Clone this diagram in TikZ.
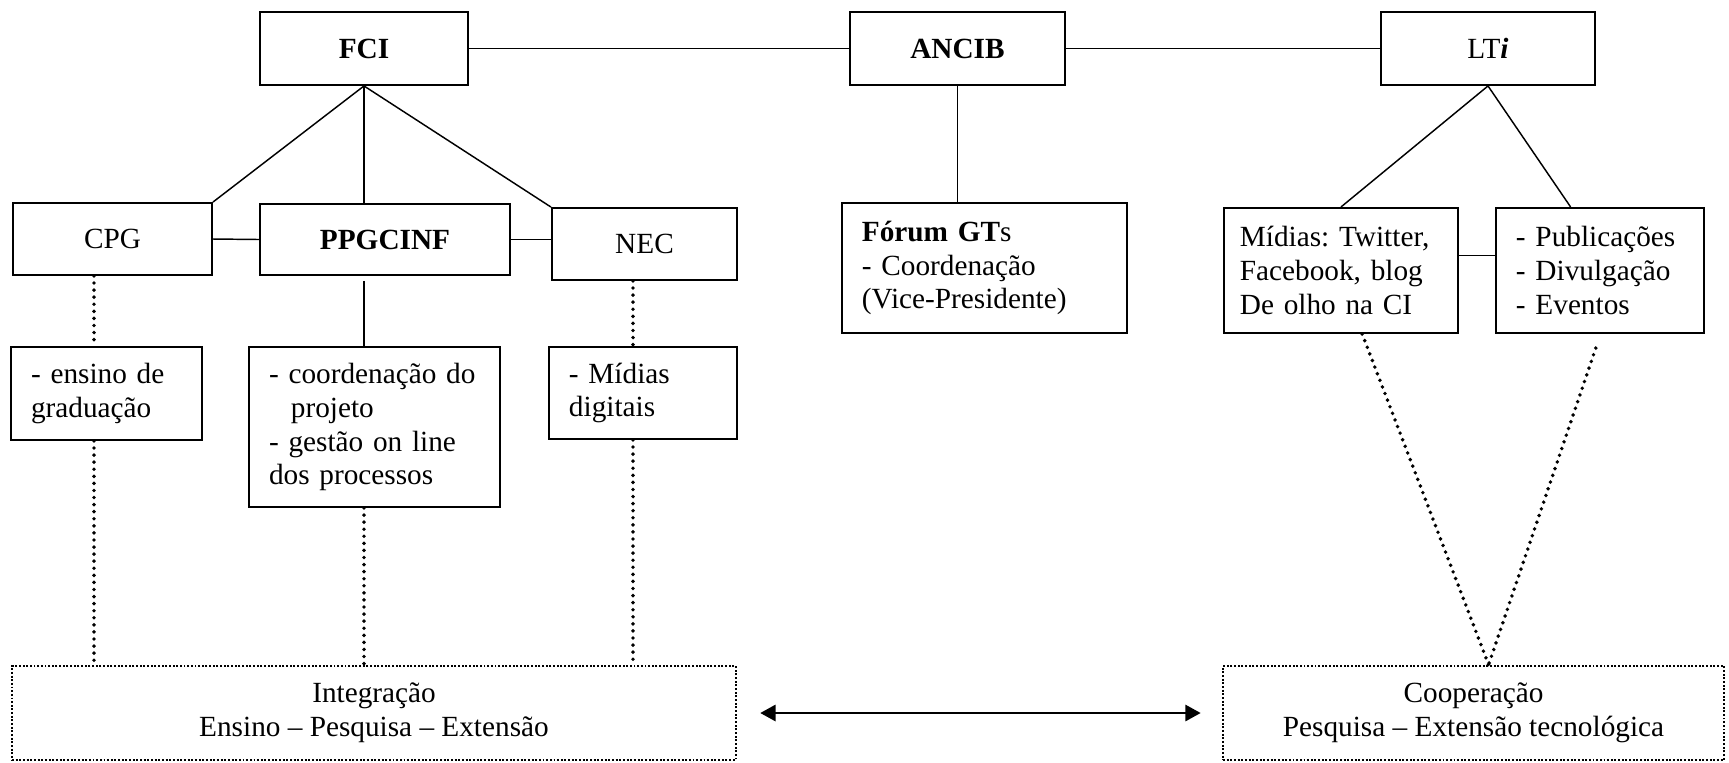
\documentclass[tikz,border=0pt]{standalone}
\usepackage{fontspec}
\setmainfont{Liberation Serif}
\usetikzlibrary{arrows.meta,calc}

\begin{document}
\begin{tikzpicture}[x=0.41pt,y=-0.41pt,
  box/.style={draw,line width=0.8pt,inner sep=0pt,align=center,font=\fontsize{12}{13.9}\selectfont\frenchspacing},
  listbox/.style={box,align=left,inner xsep=8.2pt},
  zone/.style={draw,dash pattern=on 0.8pt off 0.7pt,line width=1.1pt,inner sep=0pt,align=center,font=\fontsize{12}{13.9}\selectfont},
  link/.style={line width=0.6pt},
  dots/.style={line width=1.6pt,dash pattern=on 0pt off 2.9pt,line cap=round}]
\useasboundingbox (0,0) rectangle (1729,762);
\node[box,minimum width=85.3pt,minimum height=29.9pt] (fci) at (364,48.5) {\textbf{FCI}};
\node[box,minimum width=88.2pt,minimum height=29.9pt] (ancib) at (957.5,48.5) {\textbf{ANCIB}};
\node[box,minimum width=87.7pt,minimum height=29.9pt] (lti) at (1488,48.5) {LT\textbf{\textit{i}}};
\node[box,minimum width=81.6pt,minimum height=29.5pt] (cpg) at (112.5,239) {CPG};
\node[box,minimum width=102.5pt,minimum height=29.1pt] (ppg) at (385,239.5) {\textbf{PPGCINF}};
\node[box,minimum width=75.9pt,minimum height=29.5pt] (nec) at (644.5,244) {NEC};
\node[listbox,text width=100.5pt,minimum height=53.3pt] (forum) at (984.5,268)
  {\textbf{Fórum GT}s\\- Coordenação\\(Vice-Presidente)};
\node[listbox,inner xsep=6.5pt,text width=82.9pt,minimum height=51.3pt] (midias) at (1341,270.5)
  {Mídias: Twitter,\\Facebook, blog\\De olho na CI};
\node[listbox,text width=68.9pt,minimum height=51.3pt] (publ) at (1600,270.5)
  {- Publicações\\- Divulgação\\- Eventos};
\node[listbox,text width=61.9pt,minimum height=38.1pt] (ensino) at (106.5,393.5)
  {- ensino de\\graduação};
\node[listbox,text width=86.5pt,minimum height=65.6pt] (coord) at (374.5,427)
  {- coordenação do\\\hspace*{9pt}projeto\\- gestão on line\\dos processos};
\node[listbox,text width=60.7pt,minimum height=37.7pt] (midig) at (643,393)
  {- Mídias\\digitais};
\node[zone,minimum width=296.8pt,minimum height=38.5pt] (integ) at (374,713)
  {Integração\\Ensino – Pesquisa – Extensão};
\node[zone,minimum width=205.4pt,minimum height=38.5pt] (coop) at (1473.5,713)
  {Cooperação\\Pesquisa – Extensão tecnológica};
\coordinate (c1) at (94,0);
\coordinate (c3) at (633,0);
\draw[link] (fci) -- (ancib) -- (lti);
\draw[link] (fci.south) -- (cpg.north east);
\draw[link] (fci.south) -- (fci.south |- ppg.north);
\draw[link] (fci.south) -- (nec.north west);
\draw[link] (cpg.east) -- (ppg.west);
\draw[link] (ppg.east) -- (ppg.east -| nec.west);
\draw[link] (ancib.south) -- (ancib.south |- forum.north);
\draw[link] (lti.south) -- (midias.north);
\draw[link] (lti.south) -- ($(publ.north west)!.36!(publ.north east)$);
\draw[link] ($(midias.north east)!.38!(midias.south east)$) coordinate (tie) -- (tie -| publ.west);
\draw[link,shorten <=2pt] (fci.south |- ppg.south) -- (fci.south |- coord.north);
\draw[dots] (cpg.south -| c1) -- (ensino.north -| c1);
\draw[dots] (ensino.south -| c1) -- (integ.north -| c1);
\draw[dots] (coord.south -| fci.south) -- (integ.north -| fci.south);
\draw[dots] (nec.south -| c3) -- (midig.north -| c3);
\draw[dots] (midig.south -| c3) -- (integ.north -| c3);
\coordinate (meet) at ($(coop.north west)!.53!(coop.north east)$);
\draw[dots] ($(midias.south west)!.59!(midias.south east)$) -- (meet);
\draw[dots] ($(publ.south west)!.48!(publ.south east)$) ++(0,14) -- (meet);
\draw[line width=1.1pt,{Triangle[length=6.3pt,width=6.6pt]}-{Triangle[length=6.3pt,width=6.6pt]},
  shorten <=9.4pt,shorten >=8.6pt] (integ) -- (coop);
\end{tikzpicture}
\end{document}
